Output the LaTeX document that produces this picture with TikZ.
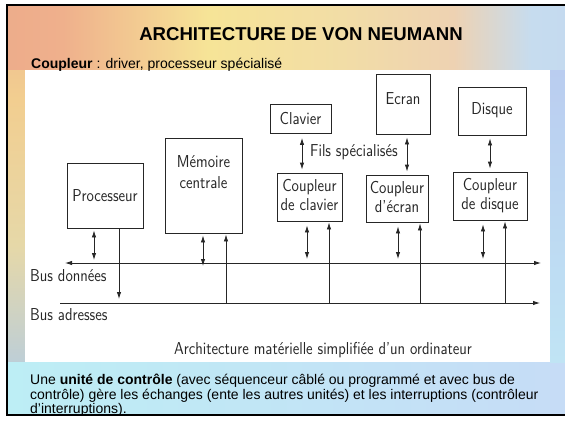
\documentclass[tikz,border=0pt]{standalone}
\usepackage{fontspec}
\setmainfont{Liberation Sans}
\usetikzlibrary{arrows.meta}
\definecolor{boxc}{HTML}{262626}
\definecolor{tb0}{HTML}{BDB49C}
\definecolor{tb1}{HTML}{E7A088}
\definecolor{tb2}{HTML}{EFB08C}
\definecolor{tb3}{HTML}{F6E497}
\definecolor{tb4}{HTML}{F2DDA6}
\definecolor{tb5}{HTML}{EED2B2}
\definecolor{tb6}{HTML}{C6DCEF}
\definecolor{tb7}{HTML}{B7C9EE}
\definecolor{lb0}{HTML}{A9C2DE}
\definecolor{lb1}{HTML}{B4CCE2}
\definecolor{lb2}{HTML}{E6D8A8}
\definecolor{lb3}{HTML}{F2CE90}
\definecolor{lb4}{HTML}{EAA78E}
\definecolor{bbL}{HTML}{BDEEF5}
\definecolor{bbR}{HTML}{C6DCF6}
\definecolor{rbT}{HTML}{BACDF0}
\definecolor{rbB}{HTML}{C0E4F4}
\pgfdeclarehorizontalshading{topband}{100bp}{color(0bp)=(tb0); color(8bp)=(tb1); color(30bp)=(tb2); color(43bp)=(tb3); color(55bp)=(tb4); color(65bp)=(tb5); color(72bp)=(tb6); color(100bp)=(tb7)}
\pgfdeclareverticalshading{leftband}{100bp}{color(0bp)=(lb0); color(20bp)=(lb1); color(45bp)=(lb2); color(70bp)=(lb3); color(100bp)=(lb4)}
\newcommand\stretchtxt[1]{\scalebox{1}[1.15]{#1}}
\begin{document}
\begin{tikzpicture}[x=1pt,y=-1pt,
  boxs/.style={draw=boxc, line width=0.8pt, inner sep=0pt, fill=white},
  ftxt/.style={font=\sffamily\fontsize{15}{17.5}\selectfont, inner sep=0pt, text=black!85, align=center},
  tipend/.style={-{Latex[length=7pt,width=4.4pt]}, draw=boxc, line width=0.8pt},
  dbl/.style={{Latex[length=7pt,width=4.4pt]}-{Latex[length=7pt,width=4.4pt]}, draw=boxc, line width=0.8pt},
  slide/.style={inner sep=0pt, font=\fontsize{14}{16}\selectfont, anchor=base west}
]
\useasboundingbox (0,0) rectangle (565,426);
\fill[white] (0,0) rectangle (565,426);
% background
\fill[rbT] (7,5) rectangle (565,415);
\shade[shading=topband] (7,5) rectangle (565,70);
\shade[shading=leftband] (7,70) rectangle (25,362);
\shade[left color=bbL, right color=bbR] (7,362) rectangle (565,415);
\shade[top color=rbT, bottom color=rbB] (550,70) rectangle (565,362);
\fill[white] (25,70) rectangle (550,362);
\draw[black, line width=2.5pt] (565,5) -- (7,5) -- (7,415) -- (565,415);

% slide texts
\node[font=\bfseries\fontsize{18.6}{21}\selectfont, anchor=base, inner sep=0pt] (title) at (301,40) {ARCHITECTURE DE VON NEUMANN};
\node[slide] (coupl) at (31,68) {\textbf{Coupleur} : driver, processeur spécialisé};
\node[slide] (p1) at (30,384.5) {Une \textbf{unité de contrôle} (avec séquenceur câblé ou programmé et avec bus de};
\node[slide] (p2) at (30,399) {contrôle) gère les échanges (ente les autres unités) et les interruptions (contrôleur};
\node[slide] (p3) at (30,413) {d'interruptions).};

% boxes
\node[boxs, minimum width=76pt, minimum height=65pt] (proc) at (105,195.5) {};
\node[boxs, minimum width=77pt, minimum height=95pt] (mem) at (203.5,185.5) {};
\node[boxs, minimum width=61pt, minimum height=29pt] (clav) at (300.5,119) {};
\node[boxs, minimum width=54pt, minimum height=60pt] (ecr) at (403,104) {};
\node[boxs, minimum width=68pt, minimum height=48pt] (disq) at (492,111) {};
\node[boxs, minimum width=65pt, minimum height=48pt] (cclav) at (309.5,197) {};
\node[boxs, minimum width=62pt, minimum height=47pt] (cecr) at (397,198.5) {};
\node[boxs, minimum width=74pt, minimum height=48pt] (cdisq) at (490,196) {};

% box texts
\node[ftxt] (tproc) at (proc.center) {\stretchtxt{Processeur}};
\node[ftxt] (tmem) at (203.5,174) {\stretchtxt{\begin{tabular}{@{}c@{}}Mémoire\\[1pt] centrale\end{tabular}}};
\node[ftxt] (tclav) at (clav.center) {\stretchtxt{Clavier}};
\node[ftxt] (tecr) at (403,99) {\stretchtxt{Ecran}};
\node[ftxt] (tdisq) at (492,110) {\stretchtxt{Disque}};
\node[ftxt] (tcclav) at (cclav.center) {\stretchtxt{\begin{tabular}{@{}c@{}}Coupleur\\[-1pt] de clavier\end{tabular}}};
\node[ftxt] (tcecr) at (cecr.center) {\stretchtxt{\begin{tabular}{@{}c@{}}Coupleur\\[-1pt] d'écran\end{tabular}}};
\node[ftxt] (tcdisq) at (cdisq.center) {\stretchtxt{\begin{tabular}{@{}c@{}}Coupleur\\[-1pt] de disque\end{tabular}}};
\node[ftxt] (fils) at (354,152) {\stretchtxt{Fils spécialisés}};

% buses
\coordinate (dL) at (65,263);
\coordinate (dR) at (541,263);
\coordinate (aL) at (60,303);
\coordinate (aR) at (540,303);
\draw[dbl] (dL) -- (dR);
\draw[tipend] (aL) -- (aR);
\node[ftxt, anchor=west] (bd) at (30,276) {\stretchtxt{Bus données}};
\node[ftxt, anchor=west] (ba) at (30,315) {\stretchtxt{Bus adresses}};

% bus attachment points
\coordinate (d1) at (94,263);   \coordinate (a1) at (119,303);
\coordinate (d2) at (203,263);  \coordinate (a2) at (226,303);
\coordinate (d3) at (307,263);  \coordinate (a3) at (329,303);
\coordinate (d4) at (398,263);  \coordinate (a4) at (420,303);
\coordinate (d5) at (483,263);  \coordinate (a5) at (505,303);

\draw[dbl, shorten <=2pt, shorten >=3pt] (proc.south -| d1) -- (d1);
\draw[tipend, shorten >=4pt] (proc.south -| a1) -- (a1);
\draw[dbl, shorten <=2pt, shorten >=-3pt] (mem.south -| d2) -- (d2);
\draw[tipend, shorten >=1pt] (a2) -- (mem.south -| a2);
\draw[dbl, shorten <=4pt, shorten >=4pt] (cclav.south -| d3) -- (d3);
\draw[tipend, shorten >=1pt] (a3) -- (cclav.south -| a3);
\draw[dbl, shorten <=4pt, shorten >=4pt] (cecr.south -| d4) -- (d4);
\draw[tipend, shorten >=1pt] (a4) -- (cecr.south -| a4);
\draw[dbl, shorten <=4pt, shorten >=4pt] (cdisq.south -| d5) -- (d5);
\draw[tipend, shorten >=1pt] (a5) -- (cdisq.south -| a5);

% specialised wires
\coordinate (f1) at (302,0);
\coordinate (f2) at (407,0);
\coordinate (f3) at (490,0);
\draw[dbl, shorten <=4pt, shorten >=3pt] (clav.south -| f1) -- (cclav.north -| f1);
\draw[dbl, shorten <=3pt, shorten >=3pt] (ecr.south -| f2) -- (cecr.north -| f2);
\draw[dbl, shorten <=3pt, shorten >=3pt] (disq.south -| f3) -- (cdisq.north -| f3);

% caption
\node[ftxt] (cap) at (323,350) {\stretchtxt{Architecture matérielle simplifiée d'un ordinateur}};
\end{tikzpicture}
\end{document}
